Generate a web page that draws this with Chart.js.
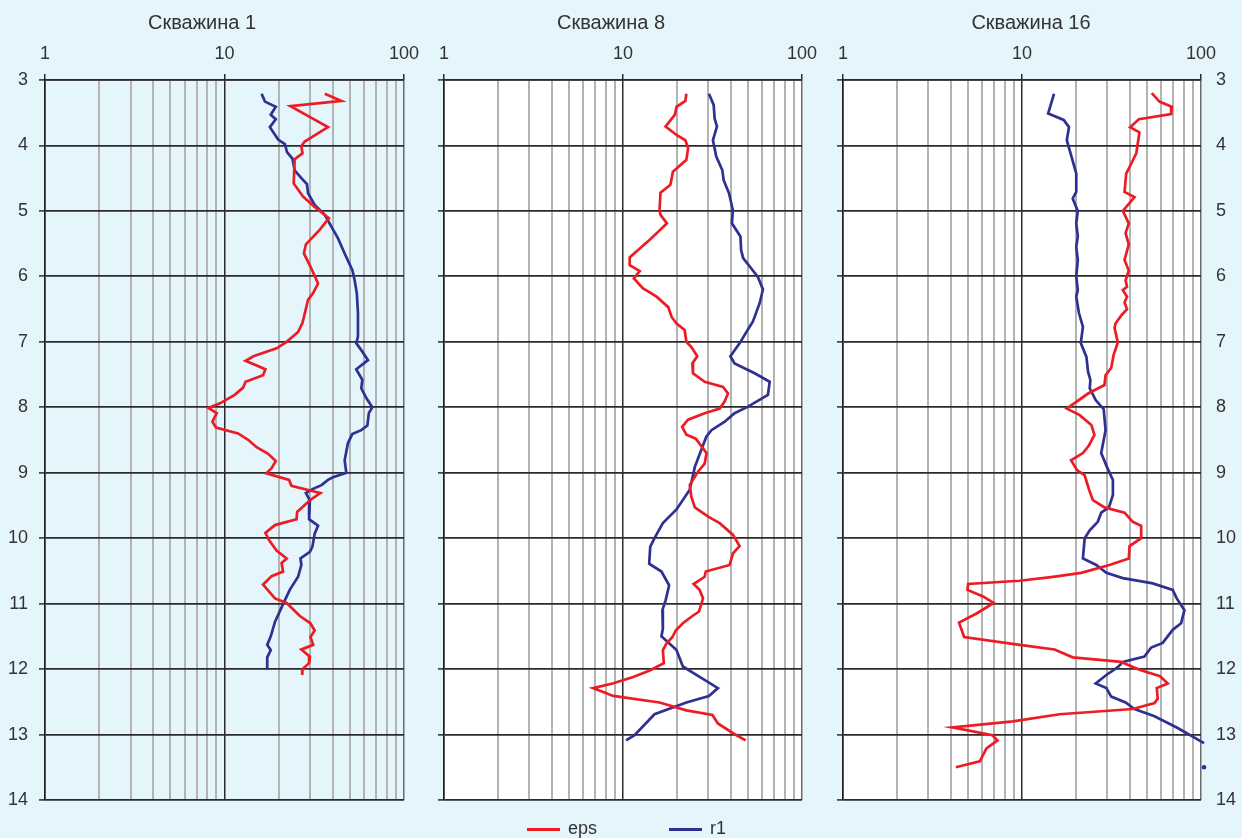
<!DOCTYPE html>
<html lang="ru">
<head>
<meta charset="utf-8">
<title>Скважины 1, 8, 16</title>
<script src="https://cdn.jsdelivr.net/npm/chart.js@4/dist/chart.umd.min.js"></script>
<style>
  html, body { margin: 0; padding: 0; background: #e4f5fc; overflow: hidden; }
  #wrap { position: relative; width: 1242px; height: 838px; }
  canvas { position: absolute; top: 0; }
  #legend { position: absolute; left: 0; top: 816px; width: 1242px; height: 24px;
            font-family: 'Liberation Sans', Arial, sans-serif; font-size: 18px; color: #333; }
  .item { position: absolute; top: 0; line-height: 24px; white-space: nowrap; }
  .swatch { position: absolute; top: 12px; height: 3px; width: 33px; }
  .lbl { position: absolute; top: 0; }
</style>
</head>
<body>
<div id="wrap">
  <canvas id="w1" width="420" height="838" style="left:0"></canvas>
  <canvas id="w8" width="400" height="838" style="left:420px"></canvas>
  <canvas id="w16" width="422" height="838" style="left:820px"></canvas>
  <div id="legend"></div>
</div>
<script>
// ---- Depth axis and resistivity axis settings ----
const depthTicks = [3, 4, 5, 6, 7, 8, 9, 10, 11, 12, 13, 14];
const logTicks = [1, 2, 3, 4, 5, 6, 7, 8, 9, 10, 20, 30, 40, 50, 60, 70, 80, 90, 100];
const logLabels = [1, 10, 100];
const seriesNames = ['eps', 'r1'];
const wellNames = ['Скважина 1', 'Скважина 8', 'Скважина 16'];

// ---- Скважина 1 ----
const w1EpsDepth = [3.21, 3.32, 3.40, 3.72, 3.94, 4.01, 4.12, 4.21, 4.58, 4.78, 4.94, 5.11, 5.29, 5.51, 5.65, 5.85, 6.11, 6.26, 6.36, 6.71, 6.85, 7.00, 7.10, 7.22, 7.29, 7.42, 7.51, 7.61, 7.70, 7.81, 7.94, 8.01, 8.09, 8.22, 8.31, 8.40, 8.50, 8.61, 8.71, 8.82, 8.93, 9.01, 9.11, 9.20, 9.31, 9.42, 9.60, 9.71, 9.80, 9.92, 10.03, 10.19, 10.31, 10.38, 10.51, 10.58, 10.71, 10.92, 10.99, 11.19, 11.30, 11.41, 11.51, 11.63, 11.70, 11.81, 11.91, 12.00, 12.09];
const w1Eps = [36.2, 44.8, 23.3, 37.7, 28.0, 26.8, 27.2, 24.6, 24.3, 27.4, 31.8, 38.2, 33.9, 28.4, 27.7, 30.1, 33.2, 31.1, 29.2, 27.2, 25.7, 22.2, 19.5, 14.5, 13.1, 16.9, 16.4, 13.1, 12.7, 11.4, 9.44, 8.13, 9.05, 8.56, 8.97, 11.9, 13.6, 15.1, 17.5, 19.3, 18.3, 17.1, 22.9, 23.6, 34.2, 29.9, 25.4, 25.2, 19.1, 16.9, 17.7, 19.5, 22.2, 20.8, 21.2, 18.3, 16.4, 19.1, 22.2, 26.3, 30.1, 31.8, 30.1, 31.2, 26.8, 29.9, 29.6, 27.2, 27.1];
const w1R1Depth = [3.21, 3.33, 3.41, 3.53, 3.60, 3.72, 3.91, 3.98, 4.10, 4.20, 4.38, 4.50, 4.59, 4.73, 4.91, 5.06, 5.24, 5.42, 5.65, 5.90, 6.06, 6.26, 6.56, 6.92, 7.02, 7.15, 7.28, 7.42, 7.58, 7.71, 7.86, 8.00, 8.09, 8.28, 8.35, 8.41, 8.55, 8.81, 9.00, 9.07, 9.11, 9.19, 9.25, 9.31, 9.42, 9.71, 9.81, 9.93, 10.13, 10.21, 10.31, 10.41, 10.59, 10.79, 11.02, 11.28, 11.50, 11.63, 11.71, 11.82, 12.01];
const w1R1 = [16.1, 16.8, 19.3, 18.1, 19.3, 17.9, 19.9, 21.7, 22.3, 23.9, 24.6, 26.8, 28.8, 29.2, 31.8, 36.2, 39.4, 42.9, 46.7, 51.5, 53.1, 54.6, 55.4, 55.4, 54.2, 58.6, 63.0, 54.2, 58.6, 57.8, 61.7, 66.6, 63.7, 62.5, 57.8, 51.5, 48.7, 46.7, 47.7, 40.2, 37.7, 34.7, 30.9, 28.4, 29.9, 29.6, 33.2, 31.8, 30.9, 29.9, 26.5, 26.8, 25.7, 23.1, 21.1, 19.1, 18.1, 17.3, 18.1, 17.3, 17.3];

// ---- Скважина 8 ----
const w8EpsDepth = [3.21, 3.32, 3.41, 3.53, 3.71, 3.84, 3.92, 4.04, 4.22, 4.40, 4.60, 4.72, 4.99, 5.06, 5.19, 5.32, 5.44, 5.60, 5.71, 5.83, 5.92, 6.03, 6.18, 6.31, 6.47, 6.62, 6.72, 6.82, 7.00, 7.08, 7.22, 7.33, 7.48, 7.61, 7.69, 7.79, 7.91, 8.02, 8.09, 8.19, 8.30, 8.42, 8.48, 8.70, 8.86, 8.98, 9.19, 9.37, 9.53, 9.67, 9.77, 9.95, 10.12, 10.23, 10.41, 10.51, 10.59, 10.70, 10.79, 10.92, 11.12, 11.20, 11.30, 11.41, 11.51, 11.61, 11.71, 11.91, 12.02, 12.12, 12.22, 12.29, 12.41, 12.51, 12.63, 12.70, 12.83, 12.98, 13.09];
const w8Eps = [22.6, 22.3, 19.9, 19.5, 17.3, 19.9, 22.3, 23.1, 22.6, 19.0, 18.4, 16.2, 16.0, 16.2, 17.6, 15.7, 14.1, 12.1, 10.9, 10.9, 12.4, 11.5, 12.9, 15.4, 17.9, 18.7, 19.9, 22.1, 22.6, 24.1, 26.0, 24.4, 24.6, 28.6, 36.2, 38.6, 37.0, 34.7, 28.6, 23.1, 21.4, 22.6, 25.5, 29.3, 28.6, 26.3, 23.6, 24.1, 25.2, 29.9, 34.7, 41.2, 44.8, 41.2, 39.4, 29.0, 28.6, 24.8, 26.8, 28.0, 26.6, 24.1, 21.6, 19.7, 18.9, 17.5, 16.7, 16.9, 14.1, 11.4, 8.74, 6.81, 8.81, 16.0, 22.6, 31.6, 33.9, 41.2, 48.4];
const w8R1Depth = [3.21, 3.38, 3.59, 3.71, 3.92, 4.17, 4.38, 4.53, 4.73, 4.99, 5.19, 5.39, 5.60, 5.72, 5.88, 6.01, 6.20, 6.41, 6.69, 6.85, 7.02, 7.22, 7.33, 7.48, 7.61, 7.81, 7.99, 8.09, 8.22, 8.35, 8.45, 8.91, 9.26, 9.56, 9.77, 10.00, 10.13, 10.39, 10.51, 10.72, 10.95, 11.10, 11.38, 11.50, 11.71, 11.96, 12.09, 12.29, 12.41, 12.51, 12.69, 13.01, 13.09];
const w8R1 = [30.2, 32.1, 32.5, 33.5, 31.8, 33.2, 35.9, 36.5, 39.1, 41.1, 40.6, 45.3, 45.7, 46.9, 52.1, 56.7, 60.5, 58.0, 53.2, 48.9, 44.9, 39.8, 42.0, 54.4, 66.0, 64.5, 49.9, 42.0, 37.0, 31.2, 29.2, 25.2, 23.6, 19.9, 16.7, 15.0, 14.2, 14.0, 16.4, 18.1, 17.3, 16.6, 16.7, 16.4, 19.9, 21.6, 25.7, 33.9, 30.2, 22.6, 15.0, 11.6, 10.4];

// ---- Скважина 16 ----
const w16EpsDepth = [3.20, 3.33, 3.41, 3.52, 3.60, 3.72, 3.80, 4.12, 4.31, 4.43, 4.71, 4.79, 5.00, 5.19, 5.34, 5.51, 5.75, 5.91, 6.06, 6.16, 6.21, 6.31, 6.40, 6.50, 6.60, 6.72, 6.79, 7.01, 7.20, 7.40, 7.51, 7.66, 7.79, 8.02, 8.12, 8.27, 8.42, 8.58, 8.70, 8.81, 8.96, 9.04, 9.26, 9.42, 9.53, 9.61, 9.75, 9.81, 10.00, 10.12, 10.31, 10.41, 10.53, 10.59, 10.65, 10.70, 10.79, 10.89, 10.99, 11.15, 11.29, 11.51, 11.63, 11.70, 11.82, 11.89, 12.01, 12.11, 12.22, 12.29, 12.45, 12.52, 12.61, 12.69, 12.80, 12.89, 13.01, 13.09, 13.21, 13.41, 13.50];
const w16Eps = [53.1, 58.6, 68.7, 68.1, 45.0, 40.2, 45.3, 43.5, 40.2, 38.2, 37.4, 42.5, 36.6, 39.5, 37.9, 39.5, 37.4, 39.5, 37.9, 38.6, 36.6, 38.6, 37.4, 38.6, 35.8, 33.3, 32.9, 34.3, 32.5, 31.5, 29.3, 28.9, 23.4, 17.8, 21.0, 24.4, 25.4, 23.7, 21.9, 18.8, 20.3, 22.4, 23.7, 24.9, 28.9, 37.4, 41.6, 46.3, 46.3, 39.9, 39.5, 30.8, 21.4, 14.9, 9.7, 5.0, 4.96, 6.06, 6.95, 5.57, 4.45, 4.75, 9.7, 15.2, 19.2, 35.8, 45.3, 59.1, 65.2, 56.6, 57.3, 55.0, 41.6, 16.2, 8.91, 4.09, 6.84, 7.29, 6.33, 5.81, 4.27];
const w16R1Depth = [3.21, 3.51, 3.61, 3.72, 3.92, 4.17, 4.43, 4.71, 4.81, 5.00, 5.19, 5.39, 5.55, 5.75, 6.00, 6.21, 6.31, 6.56, 6.77, 7.02, 7.23, 7.46, 7.58, 7.71, 7.89, 8.03, 8.35, 8.70, 8.91, 9.11, 9.34, 9.53, 9.61, 9.75, 9.88, 10.00, 10.18, 10.31, 10.41, 10.53, 10.61, 10.69, 10.79, 10.92, 11.10, 11.30, 11.40, 11.60, 11.67, 11.81, 11.89, 11.97, 12.09, 12.22, 12.29, 12.42, 12.51, 12.61, 12.72, 12.90, 13.13, 13.30, 13.50];
const w16R1 = [15.1, 14.0, 17.1, 18.3, 17.8, 18.9, 20.1, 20.1, 19.2, 20.5, 20.1, 20.5, 20.1, 20.5, 20.1, 20.5, 20.1, 20.8, 21.9, 21.3, 22.9, 23.4, 24.1, 23.9, 25.8, 28.6, 29.3, 27.7, 29.8, 32.2, 32.2, 30.6, 27.7, 26.5, 23.9, 22.4, 22.1, 21.9, 26.0, 29.6, 36.6, 53.8, 69.5, 73.2, 80.8, 77.4, 69.5, 61.1, 52.7, 48.3, 36.6, 34.3, 29.6, 25.8, 29.6, 31.5, 37.9, 42.5, 55.0, 74.1, 104, null, 104];

// ---- Styling ----
const FONT = "'Liberation Sans', Arial, Helvetica, sans-serif";
const TEXT = '#333333';
const EPS_COLOR = '#ed1c24';
const R1_COLOR = '#2e3192';
const BOTTOM_PAD = 38;    // space under depth 14

function pairs(depths, values) {
  return depths.map((d, i) => ({ x: values[i], y: values[i] === null ? null : d }));
}

// paints the plotting rectangle before the grid
const plotBg = {
  id: 'plotBg',
  beforeDraw(chart, args, opts) {
    if (!opts.color) return;
    const a = chart.chartArea;
    const c = chart.ctx;
    c.save();
    c.fillStyle = opts.color;
    c.fillRect(a.left, a.top, a.right - a.left, a.bottom - a.top);
    c.restore();
  }
};

function xAxis() {
  return {
    type: 'logarithmic',
    position: 'top',
    min: 1,
    max: 100,
    afterBuildTicks: s => { s.ticks = logTicks.map(v => ({ value: v })); },
    afterFit: s => { s.height = 45; s.paddingLeft = 0; s.paddingRight = 0; },
    ticks: {
      autoSkip: false,
      maxRotation: 0,
      padding: 9,
      color: TEXT,
      font: { family: FONT, size: 18 },
      callback: v => logLabels.includes(v) ? String(v) : ''
    },
    grid: {
      color: c => (c.tick && c.tick.value === 100) ? '#6a6a6a'
                : (c.tick && logLabels.includes(c.tick.value)) ? '#2b2b2b' : '#b3b3b3',
      lineWidth: c => (c.tick && logLabels.includes(c.tick.value)) ? 1.5 : 2,
      tickColor: c => (c.tick && logLabels.includes(c.tick.value)) ? '#2b2b2b' : 'rgba(0,0,0,0)',
      tickLength: 6,
      tickWidth: 1.5
    },
    border: { color: '#2b2b2b', width: 1.5 }
  };
}

function yAxis(position, width, showLabels, showGrid) {
  return {
    type: 'linear',
    position: position,
    reverse: true,
    min: 3,
    max: 14,
    afterBuildTicks: s => { s.ticks = depthTicks.map(v => ({ value: v })); },
    afterFit: s => { s.width = width; s.paddingTop = 0; s.paddingBottom = 0; },
    ticks: {
      display: showLabels,
      padding: showGrid ? 11 : 15,
      color: TEXT,
      font: { family: FONT, size: 18 }
    },
    grid: showGrid ? {
      color: '#2b2b2b',
      lineWidth: 1.8,
      tickLength: 6,
      tickColor: '#2b2b2b',
      tickWidth: 1.5
    } : { display: false, drawTicks: false },
    border: showGrid ? { color: '#1e1e1e', width: 1.5 } : { display: false }
  };
}

function makeWell(id, title, eps, r1, yScales, padRight, bg, clipR1) {
  return new Chart(document.getElementById(id), {
    type: 'scatter',
    data: {
      datasets: [
        { label: seriesNames[0], data: eps, showLine: true, borderColor: EPS_COLOR,
          backgroundColor: EPS_COLOR, borderWidth: 2.7, pointRadius: 0, tension: 0 },
        { label: seriesNames[1], data: r1, showLine: true, borderColor: R1_COLOR,
          backgroundColor: R1_COLOR, borderWidth: 2.7, tension: 0, spanGaps: false,
          clip: clipR1 ? undefined : false,
          pointRadius: c => (c.dataIndex > 0 && r1[c.dataIndex - 1] && r1[c.dataIndex - 1].x === null) ? 1 : 0 }
      ]
    },
    options: {
      responsive: false,
      animation: false,
      events: [],
      layout: { padding: { top: 0, left: 0, right: padRight, bottom: BOTTOM_PAD } },
      scales: Object.assign({ x: xAxis() }, yScales),
      plugins: {
        legend: { display: false },
        tooltip: { enabled: false },
        title: {
          display: true,
          text: title,
          color: TEXT,
          font: { family: FONT, size: 20, weight: 'normal' },
          padding: { top: 11, bottom: 0 }
        },
        plotBg: { color: bg }
      }
    },
    plugins: [plotBg]
  });
}

makeWell('w1', wellNames[0], pairs(w1EpsDepth, w1Eps), pairs(w1R1Depth, w1R1),
  { y: yAxis('left', 45, true, true) }, 16, null, true);
makeWell('w8', wellNames[1], pairs(w8EpsDepth, w8Eps), pairs(w8R1Depth, w8R1),
  { y: yAxis('left', 24, false, true) }, 18, '#ffffff', true);
makeWell('w16', wellNames[2], pairs(w16EpsDepth, w16Eps), pairs(w16R1Depth, w16R1),
  { y: yAxis('left', 23, false, true), y2: yAxis('right', 41, true, false) }, 0, '#ffffff', false);

// legend under the middle panel
const legend = document.getElementById('legend');
[[seriesNames[0], EPS_COLOR, 527], [seriesNames[1], R1_COLOR, 669]].forEach(([name, color, x]) => {
  const item = document.createElement('div');
  item.className = 'item';
  item.style.left = x + 'px';
  const sw = document.createElement('div');
  sw.className = 'swatch';
  sw.style.left = '0px';
  sw.style.background = color;
  const lbl = document.createElement('span');
  lbl.className = 'lbl';
  lbl.style.left = '41px';
  lbl.textContent = name;
  item.appendChild(sw);
  item.appendChild(lbl);
  legend.appendChild(item);
});
</script>
</body>
</html>
